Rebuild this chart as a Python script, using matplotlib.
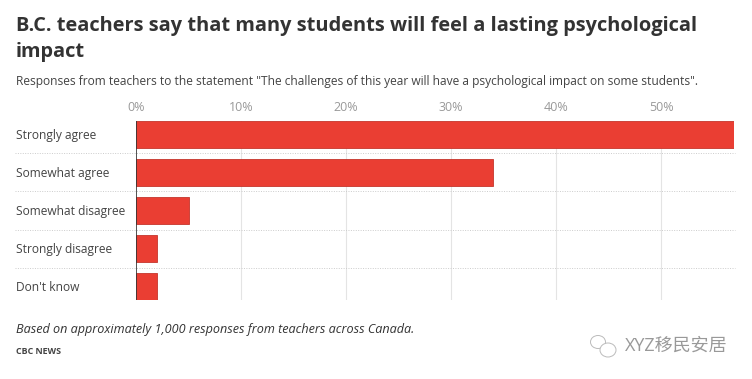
import matplotlib
matplotlib.use("Agg")
import matplotlib.pyplot as plt
from matplotlib.patches import Ellipse

categories = ["Strongly agree", "Somewhat agree", "Somewhat disagree", "Strongly disagree", "Don't know"]
values = [57, 34, 5, 2, 2]
ticks = [0, 10, 20, 30, 40, 50]

W, H = 752, 379
plt.rcParams['font.family'] = ['Open Sans', 'Noto Sans CJK SC', 'DejaVu Sans']

fig = plt.figure(figsize=(W / 100, H / 100), dpi=100)

# axes placed in pixels, each row is 38px tall
left, right, top, bottom = 136, 734, 121, 300
ax = fig.add_axes([left / W, 1 - bottom / H, (right - left) / W, (bottom - top) / H])
ax.set_xlim(0, (right - left) / 10.5)
ax.set_ylim(4.355, -0.355)

ax.barh(range(len(categories)), values, height=0.71, color='#ea3e33', edgecolor='#c5352c', linewidth=0.6, zorder=3)

for t in ticks[1:]:
    ax.axvline(t, color='#e4e4e4', linewidth=0.8, zorder=1)
ax.axvline(0, color='#333333', linewidth=1.2, zorder=4)

# dotted row separators reach out to the labels
for i in range(len(categories) - 1):
    y = i + 0.5
    ax.plot([-11.5, 57], [y, y], color='#cccccc', linewidth=0.7, linestyle=(0, (1, 1.5)), clip_on=False, zorder=2)

for s in ax.spines.values():
    s.set_visible(False)
ax.set_yticks([])
ax.set_xticks(ticks)
ax.set_xticklabels([f"{t}%" for t in ticks], fontsize=9, color='#999999')
ax.xaxis.tick_top()
ax.tick_params(axis='x', length=0, pad=5)

for i, c in enumerate(categories):
    ax.text(16 / W, 1 - (135.5 + i * 38) / H, c, transform=fig.transFigure, fontsize=8.65, color='#444444', va='center')

fig.text(16 / W, 1 - 25.5 / H, "B.C. teachers say that many students will feel a lasting psychological",
         fontsize=14.4, fontweight='bold', color='#333333', va='center')
fig.text(16 / W, 1 - 51.5 / H, "impact", fontsize=14.4, fontweight='bold', color='#333333', va='center')
fig.text(16 / W, 1 - 82 / H,
         'Responses from teachers to the statement "The challenges of this year will have a psychological impact on some students".',
         fontsize=8.68, color='#444444', va='center')
fig.text(16 / W, 1 - 329 / H, "Based on approximately 1,000 responses from teachers across Canada.",
         fontsize=9.05, style='italic', color='#333333', va='center')
fig.text(16 / W, 1 - 351 / H, "CBC NEWS", fontsize=6.4, fontweight='bold', color='#444444', va='center')

# watermark
fig.text(625 / W, 1 - 346 / H, "XYZ移民安居", fontsize=13, color='#999999', va='center')
fig.add_artist(Ellipse((598 / W, 1 - 342 / H), 15 / W, 13 / H, transform=fig.transFigure, fill=False, edgecolor='#bbbbbb', linewidth=0.7))
fig.add_artist(Ellipse((608 / W, 1 - 350 / H), 16 / W, 14 / H, transform=fig.transFigure, facecolor='white', edgecolor='#bbbbbb', linewidth=0.7))

fig.savefig('out.png', dpi=100)
